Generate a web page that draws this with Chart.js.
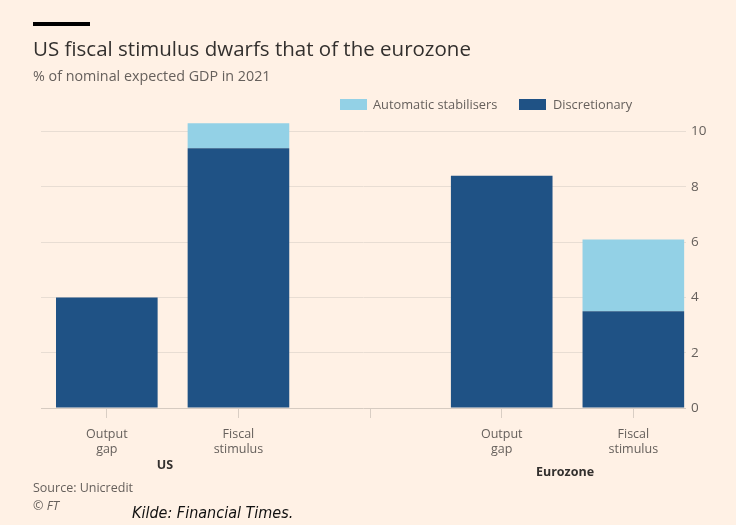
<!DOCTYPE html>
<html>
<head>
<meta charset="utf-8">
<script src="https://cdn.jsdelivr.net/npm/chart.js@4.4.1/dist/chart.umd.min.js"></script>
<style>
  html, body { margin: 0; padding: 0; }
  body { width: 736px; height: 525px; background: #fff1e5; position: relative; overflow: hidden;
         font-family: "Open Sans", Lato, sans-serif; color: #33302e; }
  #c { position: absolute; left: 0; top: 0; }
  .txt { position: absolute; white-space: nowrap; }
  .rule { position: absolute; left: 33px; top: 22px; width: 57px; height: 4px; background: #000; }
  .title { left: 33px; top: 36px; font-size: 20.5px; line-height: 24px; color: #33302e; }
  .sub { left: 33px; top: 67px; font-size: 14.3px; line-height: 18px; color: #66605c; }
  .sw { position: absolute; width: 27px; height: 11px; top: 99px; }
  .leg { top: 96px; font-size: 12.8px; line-height: 17px; color: #66605c; }
  .grp { font-size: 12.5px; line-height: 17px; font-weight: bold; color: #33302e; transform: translateX(-50%); }
  .src { left: 33px; font-size: 12.5px; line-height: 17px; color: #66605c; }
  .kilde { left: 132px; top: 503px; font-size: 16px; line-height: 20px; font-style: italic; color: #111;
           font-family: "Liberation Sans Narrow", "DejaVu Sans Condensed", sans-serif; }
</style>
</head>
<body>
<canvas id="c" width="736" height="525"></canvas>
<div class="rule"></div>
<div class="txt title">US fiscal stimulus dwarfs that of the eurozone</div>
<div class="txt sub">% of nominal expected GDP in 2021</div>
<div class="sw" style="left:340px;background:#93d1e6"></div>
<div class="txt leg" style="left:373px">Automatic stabilisers</div>
<div class="sw" style="left:519px;background:#1f5285"></div>
<div class="txt leg" style="left:553px">Discretionary</div>
<div class="txt grp" style="left:165px;top:456px">US</div>
<div class="txt grp" style="left:565px;top:463px">Eurozone</div>
<div class="txt src" style="top:479px">Source: Unicredit</div>
<div class="txt src" style="top:497px">© <i>FT</i></div>
<div class="txt kilde">Kilde: Financial Times.</div>
<script>
// category slots on the x axis (slot 3 is the empty gap between US and eurozone)
const slots = [1, 2, 3, 4, 5];
const slotLabels = [['Output', 'gap'], ['Fiscal', 'stimulus'], '', ['Output', 'gap'], ['Fiscal', 'stimulus']];

// bar positions and values, % of GDP
const barSlots = [1, 2, 4, 5];
const discretionary = [4.0, 9.4, 8.4, 3.5];
const automatic = [null, 0.9, null, 2.6];

const yTicks = [0, 2, 4, 6, 8, 10];

const toPoints = vals => barSlots
  .map((x, i) => ({ x, y: vals[i] }))
  .filter(p => p.y !== null);

const grey = '#66605c';
const font = '"Open Sans", Lato, sans-serif';

new Chart(document.getElementById('c'), {
  type: 'bar',
  data: {
    datasets: [
      { label: 'Discretionary', data: toPoints(discretionary), backgroundColor: '#1f5285' },
      { label: 'Automatic stabilisers', data: toPoints(automatic), backgroundColor: '#93d1e6' }
    ]
  },
  options: {
    responsive: false,
    animation: false,
    devicePixelRatio: 1,
    categoryPercentage: 0.8,
    barPercentage: 0.965,
    layout: { padding: { left: 41, right: 0, top: 115, bottom: 57 } },
    plugins: { legend: { display: false }, tooltip: { enabled: false } },
    scales: {
      x: {
        type: 'linear',
        stacked: true,
        offset: false,
        min: 0.5,
        max: 5.4,
        afterBuildTicks: s => { s.ticks = slots.map(v => ({ value: v })); },
        afterFit: s => { s.height = 60; },
        border: { display: false },
        grid: { offset: false, drawOnChartArea: false, drawTicks: true, tickLength: 10, color: '#d9cec4' },
        ticks: {
          autoSkip: false,
          maxRotation: 0,
          padding: 9,
          color: grey,
          font: { family: font, size: 12.5, lineHeight: 1.2 },
          callback: v => slotLabels[slots.indexOf(v)]
        }
      },
      y: {
        position: 'right',
        stacked: true,
        min: 0,
        max: 10.6,
        afterBuildTicks: s => { s.ticks = yTicks.map(v => ({ value: v })); },
        afterFit: s => { s.width = 50; },
        border: { display: false },
        grid: {
          drawTicks: false,
          color: c => c.tick && c.tick.value === 0 ? '#d6cbc1' : '#e8ddd3'
        },
        ticks: {
          padding: 5,
          color: grey,
          font: { family: font, size: 13.5 }
        }
      }
    }
  }
});
</script>
</body>
</html>
